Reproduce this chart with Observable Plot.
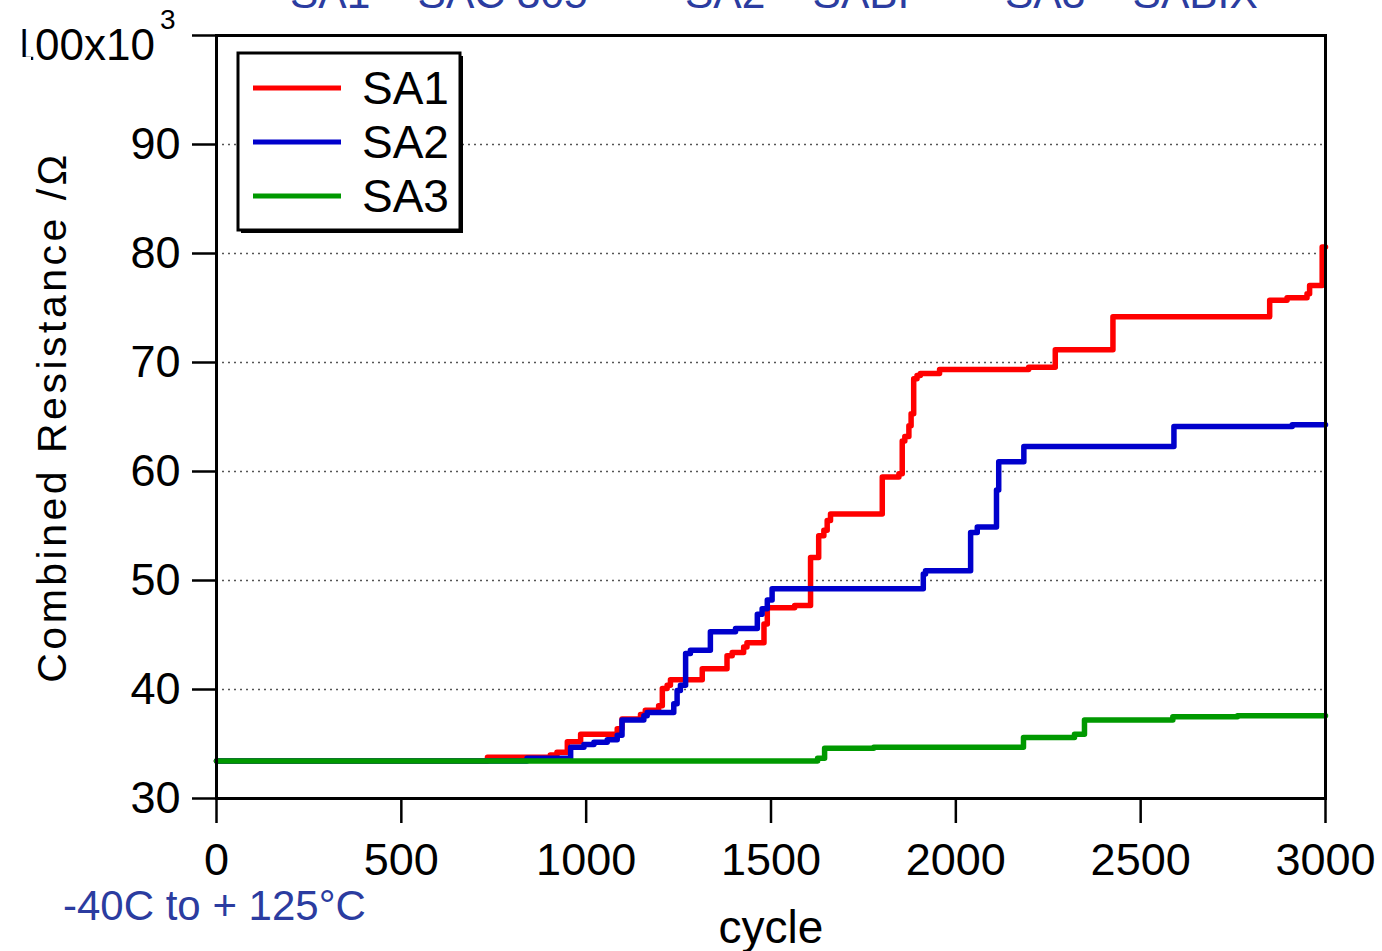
<!DOCTYPE html>
<html>
<head>
<meta charset="utf-8">
<script src="https://cdn.jsdelivr.net/npm/d3@7"></script>
<script src="https://cdn.jsdelivr.net/npm/@observablehq/plot@0.6"></script>
<style>
  html, body { margin: 0; padding: 0; background: #fff; overflow: hidden; }
  #chart { position: relative; width: 1382px; height: 951px; }
</style>
</head>
<body>
<div id="chart"></div>
<script>
// ---- data (cycle, combined resistance in kΩ) ----
const seriesNames = ["SA1", "SA2", "SA3"];
const seriesColors = ["#ff0000", "#0000cc", "#009900"];

const sa1Cycles = [0, 733, 903, 921, 949, 985, 1084, 1097, 1147, 1160, 1196, 1206, 1219, 1228, 1314, 1381, 1395, 1426, 1435, 1481, 1490, 1564, 1607, 1629, 1643, 1652, 1661, 1801, 1846, 1855, 1862, 1873, 1879, 1886, 1895, 1904, 1956, 2197, 2269, 2425, 2849, 2896, 2950, 2957, 2991, 3000];
const sa1Values = [33.45, 33.78, 34.0, 34.25, 35.2, 35.9, 36.4, 37.3, 37.7, 38.1, 38.5, 40.1, 40.4, 40.9, 41.9, 43.1, 43.4, 43.9, 44.3, 46.0, 47.5, 47.7, 52.1, 54.1, 54.6, 55.5, 56.1, 59.5, 59.8, 62.8, 63.2, 64.2, 65.3, 68.5, 68.8, 69.0, 69.35, 69.57, 71.16, 74.2, 75.7, 75.94, 76.3, 77.06, 80.6, 80.6];

const sa2Cycles = [0, 840, 958, 994, 1021, 1057, 1084, 1097, 1156, 1165, 1237, 1246, 1255, 1269, 1282, 1336, 1404, 1463, 1476, 1490, 1503, 1912, 1918, 2040, 2058, 2110, 2116, 2184, 2590, 2910, 3000];
const sa2Values = [33.45, 33.7, 34.7, 34.95, 35.17, 35.4, 35.8, 37.2, 37.6, 37.9, 38.7, 39.9, 40.4, 43.3, 43.6, 45.3, 45.6, 46.9, 47.4, 48.2, 49.24, 50.6, 50.9, 54.4, 54.9, 58.3, 60.9, 62.3, 64.13, 64.3, 64.3];

const sa3Cycles = [0, 1626, 1645, 1778, 2183, 2321, 2348, 2587, 2762, 3000];
const sa3Values = [33.45, 33.7, 34.6, 34.7, 35.6, 35.9, 37.2, 37.5, 37.6, 37.6];

const cycleTicks = [0, 500, 1000, 1500, 2000, 2500, 3000];
const resistanceTicks = [30, 40, 50, 60, 70, 80, 90, 100];
const gridTicks = [40, 50, 60, 70, 80, 90];

const titleParts = ["SA1 – SAC 305", "SA2 – SABI", "SA3 – SABIX"];
const yLabel = "Combined Resistance /Ω";
const xLabel = "cycle";
const noteText = "-40C to + 125°C";

// ---- build rows ----
const rows = [];
[[sa1Cycles, sa1Values], [sa2Cycles, sa2Values], [sa3Cycles, sa3Values]].forEach(([cs, vs], i) => {
  cs.forEach((c, j) => rows.push({series: seriesNames[i], cycle: c, value: vs[j]}));
});

const FONT = "'Liberation Sans', Arial, Helvetica, sans-serif";

const svg = Plot.plot({
  width: 1382,
  height: 951,
  marginLeft: 216,
  marginRight: 57,
  marginTop: 35,
  marginBottom: 153,
  style: {fontFamily: FONT, fontSize: "45px", color: "black", background: "white"},
  x: {domain: [0, 3000]},
  y: {domain: [30, 100]},
  color: {domain: seriesNames, range: seriesColors},
  marks: [
    Plot.gridY(gridTicks, {stroke: "#555", strokeOpacity: 1, strokeDasharray: "2,4", strokeWidth: 1.3}),
    Plot.line(rows, {x: "cycle", y: "value", z: "series", stroke: "series", curve: "step-after", strokeWidth: 5.5}),
    Plot.axisX({ticks: cycleTicks, tickSize: 25, tickPadding: 20, fontSize: 45, strokeWidth: 2.5, label: null,
      tickFormat: d => String(d)}),
    Plot.axisY({ticks: resistanceTicks, tickSize: 24, tickPadding: 12, fontSize: 45, strokeWidth: 2.5, label: null,
      tickFormat: d => d === 100 ? "" : String(d)}),
    Plot.frame({stroke: "black", strokeWidth: 3})
  ]
});

document.getElementById("chart").appendChild(svg);

// ---- annotations (title, clipped top tick label, axis titles, legend, note) ----
const s = d3.select(svg);
const g = s.append("g").attr("font-family", FONT).attr("text-anchor", "start");

// clipped title strip at the very top
const titleX = [290, 685, 1005];
titleParts.forEach((t, i) => {
  g.append("text").attr("x", titleX[i]).attr("y", 8).attr("text-anchor", "start")
    .attr("font-size", 42.5).attr("fill", "#2b3ca0").text(t);
});

// top tick label "100x10³" with its first digit clipped down to its stem
const cp = s.append("defs").append("clipPath").attr("id", "clip100");
cp.append("rect").attr("x", 22.5).attr("y", 0).attr("width", 8.5).attr("height", 57);
cp.append("rect").attr("x", 31).attr("y", 0).attr("width", 200).attr("height", 80);
g.append("text").attr("x", 155).attr("y", 60).attr("text-anchor", "end")
  .attr("font-size", 44).attr("clip-path", "url(#clip100)").text("100x10");
g.append("text").attr("x", 160).attr("y", 29).attr("text-anchor", "start").attr("font-size", 28).text("3");

// y axis title
g.append("text").attr("transform", "translate(66,417) rotate(-90)")
  .attr("text-anchor", "middle").attr("font-size", 41).attr("letter-spacing", "3.5px")
  .text(yLabel);

// x axis title
g.append("text").attr("x", 771).attr("y", 943).attr("text-anchor", "middle")
  .attr("font-size", 46).text(xLabel);

// temperature note
g.append("text").attr("x", 63).attr("y", 920).attr("text-anchor", "start").attr("font-size", 42)
  .attr("fill", "#2b3ca0").text(noteText);

// legend
const lg = g.append("g");
lg.append("rect").attr("x", 241).attr("y", 56).attr("width", 222).attr("height", 177).attr("fill", "black");
lg.append("rect").attr("x", 238).attr("y", 53).attr("width", 222).attr("height", 177)
  .attr("fill", "white").attr("stroke", "black").attr("stroke-width", 3);
const legY = [88, 142, 196];
seriesNames.forEach((name, i) => {
  lg.append("line").attr("x1", 253).attr("x2", 341).attr("y1", legY[i]).attr("y2", legY[i])
    .attr("stroke", seriesColors[i]).attr("stroke-width", 5);
  lg.append("text").attr("x", 362).attr("y", legY[i] + 16).attr("text-anchor", "start")
    .attr("font-size", 46).text(name);
});
</script>
</body>
</html>
